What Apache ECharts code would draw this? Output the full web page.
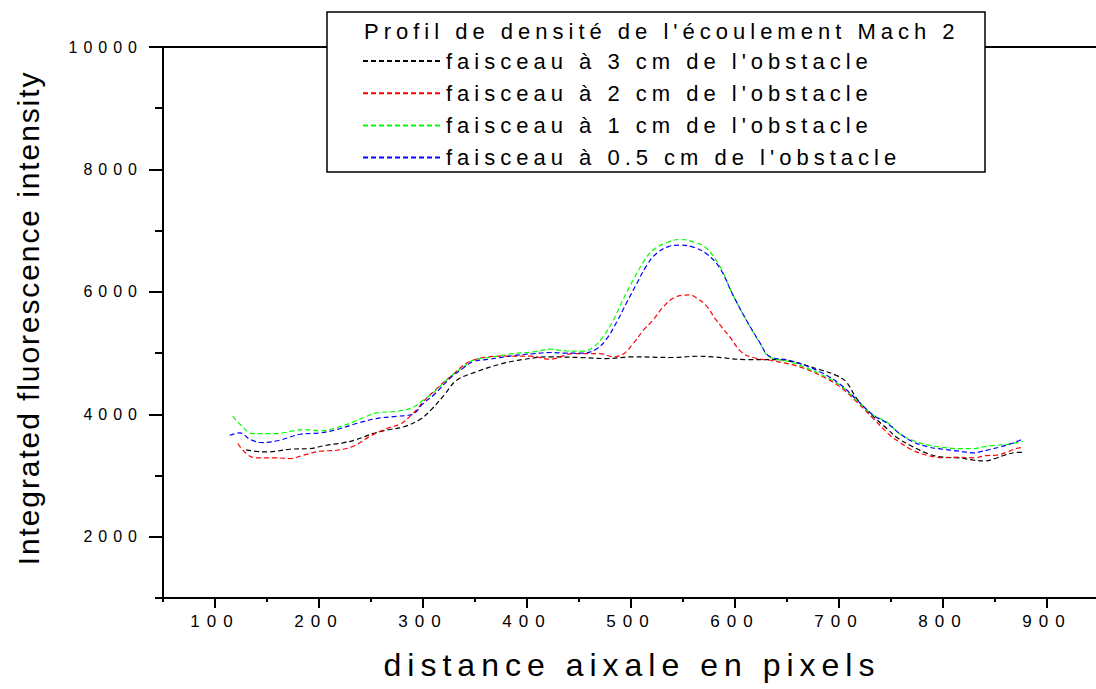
<!DOCTYPE html>
<html>
<head>
<meta charset="utf-8">
<script src="https://cdn.jsdelivr.net/npm/echarts@6.0.0/dist/echarts.min.js"></script>
<style>
html, body { margin: 0; padding: 0; background: #fff; }
#chart { width: 1096px; height: 689px; }
/* the original plot uses wide letter spacing */
#chart text[style*="16px"] { letter-spacing: 6px; }
#chart text[style*="17px"] { letter-spacing: 7px; }
#chart text[style*="22px"] { letter-spacing: 5px; }
#chart text[style*="32px"] { letter-spacing: 6px; }
#chart text[style*="30px"] { letter-spacing: 1.9px; }
</style>
</head>
<body>
<div id="chart"></div>
<script>
var titleText = "Profil de densité de l'écoulement Mach 2";
var names = [
    "faisceau à 3 cm de l'obstacle",
    "faisceau à 2 cm de l'obstacle",
    "faisceau à 1 cm de l'obstacle",
    "faisceau à 0.5 cm de l'obstacle"
];
var colors = ['#000000', '#ff0000', '#00ff00', '#0000ff'];
var xTicks = [100, 200, 300, 400, 500, 600, 700, 800, 900];
var yTicks = [2000, 4000, 6000, 8000, 10000];

// [distance, intensity]
var d3cm = [[130,3420],[140,3395],[150,3386],[160,3400],[172,3430],[191,3441],[207,3495],[223,3533],[236,3588],
    [252,3686],[268,3752],[281,3794],[297,3915],[308,4078],[321,4328],[332,4552],[351,4693],[374,4818],[396,4895],
    [422,4939],[451,4928],[476,4911],[502,4939],[540,4928],[563,4949],[579,4939],[611,4895],[637,4895],[656,4856],
    [681,4732],[697,4639],[707,4529],[717,4258],[730,4013],[746,3768],[757,3604],[770,3480],[785,3360],[800,3300],
    [815,3290],[830,3250],[840,3239],[850,3278],[859,3332],[870,3376],[878,3380]];
var d2cm = [[122,3523],[130,3359],[140,3288],[159,3288],[172,3278],[185,3332],[201,3397],[217,3413],[233,3479],
    [249,3642],[265,3768],[279,3850],[287,3958],[295,4095],[300,4203],[312,4400],[326,4611],[348,4884],[380,4950],
    [403,4950],[422,4900],[445,4993],[470,4993],[483,4940],[493,4990],[502,5156],[512,5374],[521,5537],[531,5755],
    [540,5891],[550,5946],[557,5950],[563,5900],[572,5780],[582,5537],[595,5265],[606,5020],[617,4928],[637,4873],
    [662,4775],[685,4611],[701,4448],[717,4203],[733,3931],[749,3658],[758,3549],[770,3420],[785,3330],[800,3290],
    [815,3300],[830,3290],[842,3327],[851,3332],[862,3386],[870,3441],[876,3460]];
var d1cm = [[117,3969],[126,3806],[136,3686],[159,3686],[175,3729],[185,3752],[201,3729],[217,3784],[233,3876],
    [246,3969],[255,4023],[275,4051],[290,4111],[300,4230],[309,4340],[326,4611],[339,4775],[348,4884],[364,4928],
    [387,4993],[406,5020],[422,5064],[438,5036],[454,5031],[464,5101],[473,5265],[483,5537],[492,5864],[502,6191],
    [512,6490],[521,6681],[534,6801],[547,6856],[560,6817],[572,6720],[585,6430],[598,5950],[611,5537],[624,5157],
    [633,4939],[653,4856],[681,4667],[701,4475],[717,4230],[733,3985],[746,3876],[758,3686],[770,3580],[785,3500],
    [800,3460],[815,3440],[830,3440],[838,3467],[848,3490],[859,3507],[867,3523],[877,3560]];
var d05cm = [[114,3658],[124,3696],[134,3588],[146,3539],[162,3577],[182,3675],[201,3696],[217,3752],[236,3850],
    [255,3931],[275,3969],[290,4002],[300,4176],[310,4312],[326,4590],[339,4760],[348,4860],[364,4900],[387,4960],
    [406,4990],[422,5010],[438,5000],[454,5000],[466,5060],[476,5220],[486,5500],[496,5830],[506,6150],[515,6430],
    [524,6620],[536,6740],[547,6763],[560,6730],[572,6630],[585,6400],[598,5950],[611,5537],[624,5170],[633,4950],
    [653,4880],[681,4700],[701,4490],[717,4240],[733,3985],[746,3860],[758,3690],[770,3560],[785,3470],[800,3430],
    [815,3400],[830,3370],[835,3386],[845,3425],[855,3467],[866,3523],[874,3577],[878,3590]];
var seriesData = [d3cm, d2cm, d1cm, d05cm];

var font = 'Liberation Sans';
var chart = echarts.init(document.getElementById('chart'), null, {renderer: 'svg'});

var series = [];
for (var i in seriesData) {
    series.push({
        name: names[i],
        type: 'line',
        data: seriesData[i],
        smooth: 0.4,
        symbol: 'none',
        color: colors[i],
        lineStyle: {width: 1.2, type: [5, 3], color: colors[i]},
        xAxisIndex: 0,
        yAxisIndex: 0,
        silent: true,
        animation: false
    });
}

chart.setOption({
    animation: false,
    grid: {
        left: 163, top: 47, width: 936, height: 551,
        show: true, borderColor: '#000', borderWidth: 2,
        backgroundColor: 'transparent',
        outerBoundsMode: 'none'
    },
    xAxis: [{
        type: 'value', min: 50, max: 950, interval: 50, position: 'bottom',
        axisLine: {onZero: false, lineStyle: {color: '#000', width: 2}},
        axisTick: {length: 4, lineStyle: {color: '#000', width: 2}},
        axisLabel: {show: false},
        splitLine: {show: false}
    }, {
        type: 'value', min: 50, max: 950, interval: 50, position: 'bottom',
        axisLine: {show: false},
        axisTick: {customValues: xTicks, length: 10, lineStyle: {color: '#000', width: 2}},
        axisLabel: {customValues: xTicks, fontSize: 17, fontFamily: font, color: '#000', margin: 15,
            formatter: function(v) { return String(v); }},
        splitLine: {show: false}
    }],
    yAxis: [{
        type: 'value', min: 1000, max: 10000, interval: 1000, position: 'left',
        axisLine: {show: true, onZero: false, lineStyle: {color: '#000', width: 2}},
        axisTick: {show: true, length: 8, lineStyle: {color: '#000', width: 2}},
        axisLabel: {show: false},
        splitLine: {show: false}
    }, {
        type: 'value', min: 1000, max: 10000, interval: 1000, position: 'left',
        axisLine: {show: false},
        axisTick: {show: true, customValues: yTicks, length: 14, lineStyle: {color: '#000', width: 2}},
        axisLabel: {customValues: yTicks, fontSize: 16, fontFamily: font, color: '#000', margin: 20,
            formatter: function(v) { return String(v); }},
        splitLine: {show: false}
    }],
    legend: {
        data: names,
        orient: 'vertical',
        left: 362, top: 50,
        padding: 0,
        itemWidth: 78, itemHeight: 24, itemGap: 10.2,
        selectedMode: false,
        z: 10,
        itemStyle: {opacity: 0},
        textStyle: {fontSize: 22, fontFamily: font, color: '#000'}
    },
    graphic: [{
        type: 'rect', z: 5,
        shape: {x: 327, y: 12, width: 658, height: 160},
        style: {fill: '#fff', stroke: '#000', lineWidth: 1.5}
    }, {
        type: 'text', z: 10, x: 364, y: 31,
        style: {text: titleText, fontSize: 22, fontFamily: font, fill: '#000', verticalAlign: 'middle'}
    }, {
        type: 'text', z: 10, x: 28, y: 318, rotation: Math.PI / 2,
        style: {text: 'Integrated fluorescence intensity', fontSize: 30, fontFamily: font, fill: '#000',
            align: 'center', verticalAlign: 'middle'}
    }, {
        type: 'text', z: 10, x: 632, y: 665,
        style: {text: 'distance aixale en pixels', fontSize: 32, fontFamily: font, fill: '#000',
            align: 'center', verticalAlign: 'middle'}
    }],
    series: series
});
</script>
</body>
</html>
